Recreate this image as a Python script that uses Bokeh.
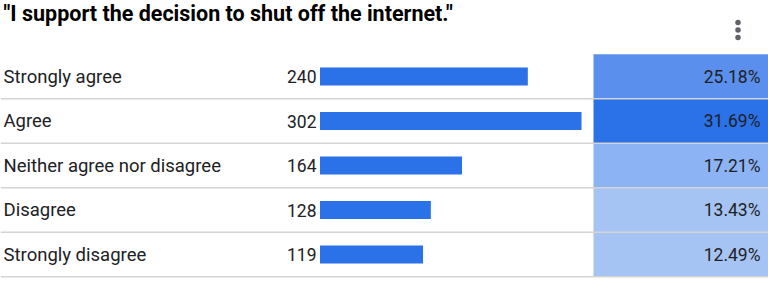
from bokeh.plotting import figure
from bokeh.models import Range1d, ColumnDataSource
from bokeh.core.properties import value
from bokeh.embed import file_html
from bokeh.resources import INLINE

title = '"I support the decision to shut off the internet."'
categories = ["Strongly agree", "Agree", "Neither agree nor disagree", "Disagree", "Strongly disagree"]
counts = [240, 302, 164, 128, 119]
cell_colors = ["#5b8fed", "#2b71e8", "#8cb3f3", "#a6c4f3", "#a6c4f3"]

total = sum(counts)
pcts = ["%.2f%%" % (100.0 * c / total) for c in counts]
rows = list(range(len(categories)))

W, H = 768, 304
ROW_PX = 44.5
TOP_CENTER = 76.0
y_start = -TOP_CENTER / ROW_PX
y_end = y_start + H / ROW_PX

BAR_X0 = 319.5
PX_PER_COUNT = 261.5 / 302.0

p = figure(width=W, height=H, output_backend="svg", toolbar_location=None,
           x_range=Range1d(0, W), y_range=Range1d(y_end, y_start),
           min_border=0, min_border_left=0, min_border_right=0,
           min_border_top=0, min_border_bottom=0)
p.extra_x_ranges = {"count": Range1d(-BAR_X0 / PX_PER_COUNT, (W - BAR_X0) / PX_PER_COUNT)}
p.extra_y_ranges = {"py": Range1d(H, 0)}
p.xaxis.visible = False
p.yaxis.visible = False
p.grid.visible = False
p.outline_line_color = None
p.background_fill_color = "white"
p.border_fill_color = "white"

src = ColumnDataSource(dict(row=rows, cat=categories, count=counts, pct=pcts, color=cell_colors,
                            zero=[0] * len(rows)))

FONT = value("Roboto")

# percentage cells
p.hbar(y="row", left=593, right=W, height=1.0, fill_color="color", line_color=None, source=src)

# row separators
p.segment(x0=0, x1=W, y0=[r + 0.5 for r in rows], y1=[r + 0.5 for r in rows],
          line_color="#d4d4d4", line_width=1.5)

# bars
p.hbar(y="row", left="zero", right="count", height=0.405, fill_color="#2b71e8",
       line_color=None, x_range_name="count", source=src)

# category labels
p.text(x=3, y="row", text="cat", text_font=FONT, text_font_size="18.5px",
       text_color="#202124", text_baseline="middle", text_align="left", source=src)
# counts
p.text(x=316, y="row", text="count", text_font=FONT, text_font_size="17.5px",
       text_color="#202124", text_baseline="middle", text_align="right", source=src)
# percentages
p.text(x=760, y="row", text="pct", text_font=FONT, text_font_size="17.5px",
       text_color="#202124", text_baseline="middle", text_align="right", source=src)

# title
p.text(x=3, y=13, text=[title], text_font=FONT, text_font_size="21.5px",
       text_font_style="bold", text_color="#000000", text_baseline="middle",
       text_align="left", y_range_name="py")

# kebab menu
p.scatter(x=[737.5, 737.5, 737.5], y=[22, 29.5, 37], size=5.5, marker="circle",
          fill_color="#5f6368", line_color=None, y_range_name="py")

open("out.html", "w").write(file_html(p, INLINE))
